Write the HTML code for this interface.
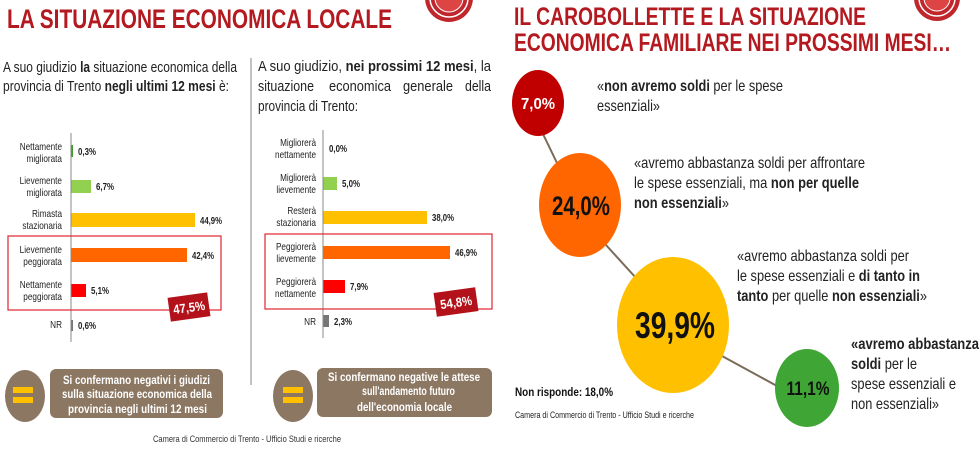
<!DOCTYPE html>
<html><head><meta charset="utf-8"><style>
html,body{margin:0;padding:0;background:#fff;width:980px;height:450px;overflow:hidden}
svg{display:block;font-family:"Liberation Sans",Arial,sans-serif}
</style></head><body>
<svg width="980" height="450" viewBox="0 0 980 450" xmlns="http://www.w3.org/2000/svg">
<!-- logos -->
<g><circle cx="449" cy="-2" r="24" fill="#c0272d"/><circle cx="449" cy="-2" r="19" fill="none" stroke="#fff" stroke-width="1.5"/><circle cx="449" cy="-2" r="14" fill="#d44" stroke="#fff" stroke-width="1"/></g>
<g><circle cx="937" cy="-2" r="23" fill="#c0272d"/><circle cx="937" cy="-2" r="18" fill="none" stroke="#fff" stroke-width="1.5"/><circle cx="937" cy="-2" r="13" fill="#d44" stroke="#fff" stroke-width="1"/></g>

<!-- left title -->
<text x="7" y="28" font-size="27" font-weight="bold" fill="#b3191f" textLength="385" lengthAdjust="spacingAndGlyphs">LA SITUAZIONE ECONOMICA LOCALE</text>
<line x1="251" y1="58" x2="251" y2="385" stroke="#999" stroke-width="1.2"/>

<text x="3" y="72" font-size="15" fill="#222" textLength="234" lengthAdjust="spacingAndGlyphs">A suo giudizio <tspan font-weight="bold">la</tspan> situazione economica della</text>
<text x="3" y="91" font-size="15" fill="#222" textLength="226" lengthAdjust="spacingAndGlyphs">provincia di Trento <tspan font-weight="bold">negli ultimi 12 mesi</tspan> è:</text>
<text x="258" y="71" font-size="15" fill="#222" textLength="233" lengthAdjust="spacingAndGlyphs">A suo giudizio, <tspan font-weight="bold">nei prossimi 12 mesi</tspan>, la</text>
<g font-size="15" fill="#222">
<text x="258" y="91" textLength="56" lengthAdjust="spacingAndGlyphs">situazione</text>
<text x="329" y="91" textLength="62" lengthAdjust="spacingAndGlyphs">economica</text>
<text x="403" y="91" textLength="50" lengthAdjust="spacingAndGlyphs">generale</text>
<text x="465" y="91" textLength="26" lengthAdjust="spacingAndGlyphs">della</text>
</g>
<text x="258" y="111" font-size="15" fill="#222" textLength="100" lengthAdjust="spacingAndGlyphs">provincia di Trento:</text>

<!-- left chart -->
<g font-size="10" fill="#222" text-anchor="end" transform="translate(62,0) scale(0.82,1) translate(-62,0)">
<text x="62" y="150">Nettamente</text><text x="62" y="162">migliorata</text>
<text x="62" y="184">Lievemente</text><text x="62" y="196">migliorata</text>
<text x="62" y="217">Rimasta</text><text x="62" y="229">stazionaria</text>
<text x="62" y="253">Lievemente</text><text x="62" y="265">peggiorata</text>
<text x="62" y="288">Nettamente</text><text x="62" y="300">peggiorata</text>
<text x="62" y="328">NR</text>
</g>
<rect x="71" y="145" width="2" height="12" fill="#3a9a2a"/>
<rect x="71" y="180" width="20" height="13" fill="#92d050"/>
<rect x="71" y="213" width="124" height="14" fill="#ffc000"/>
<rect x="71" y="248" width="116" height="14" fill="#ff6600"/>
<rect x="71" y="284" width="15" height="13" fill="#ff0000"/>
<rect x="71" y="320" width="2" height="11" fill="#777"/>
<line x1="71" y1="133" x2="71" y2="342" stroke="#888" stroke-width="1"/>
<g font-size="10" font-weight="bold" fill="#222" lengthAdjust="spacingAndGlyphs">
<text x="78" y="155" textLength="18" lengthAdjust="spacingAndGlyphs">0,3%</text><text x="96" y="190" textLength="18" lengthAdjust="spacingAndGlyphs">6,7%</text><text x="200" y="224" textLength="22" lengthAdjust="spacingAndGlyphs">44,9%</text>
<text x="192" y="259" textLength="22" lengthAdjust="spacingAndGlyphs">42,4%</text><text x="91" y="294" textLength="18" lengthAdjust="spacingAndGlyphs">5,1%</text><text x="78" y="329" textLength="18" lengthAdjust="spacingAndGlyphs">0,6%</text>
</g>
<rect x="8" y="236" width="213" height="74" fill="none" stroke="#e0262d" stroke-width="1.2"/>
<g transform="translate(189,307) rotate(-8)"><rect x="-20" y="-12" width="40" height="24" fill="#b3121a"/><text x="0" y="5" font-size="13" font-weight="bold" fill="#fff" text-anchor="middle" textLength="32" lengthAdjust="spacingAndGlyphs">47,5%</text></g>

<!-- right chart -->
<g font-size="10" fill="#222" text-anchor="end" transform="translate(316,0) scale(0.82,1) translate(-316,0)">
<text x="316" y="146">Migliorerà</text><text x="316" y="158">nettamente</text>
<text x="316" y="181">Migliorerà</text><text x="316" y="193">lievemente</text>
<text x="316" y="214">Resterà</text><text x="316" y="226">stazionaria</text>
<text x="316" y="250">Peggiorerà</text><text x="316" y="262">lievemente</text>
<text x="316" y="285">Peggiorerà</text><text x="316" y="297">nettamente</text>
<text x="316" y="325">NR</text>
</g>
<rect x="323" y="177" width="14" height="13" fill="#92d050"/>
<rect x="323" y="211" width="104" height="13" fill="#ffc000"/>
<rect x="323" y="246" width="127" height="13" fill="#ff6600"/>
<rect x="323" y="280" width="22" height="13" fill="#ff0000"/>
<rect x="323" y="315" width="6" height="12" fill="#777"/>
<line x1="323" y1="130" x2="323" y2="338" stroke="#888" stroke-width="1"/>
<g font-size="10" font-weight="bold" fill="#222">
<text x="329" y="152" textLength="18" lengthAdjust="spacingAndGlyphs">0,0%</text><text x="342" y="187" textLength="18" lengthAdjust="spacingAndGlyphs">5,0%</text><text x="432" y="221" textLength="22" lengthAdjust="spacingAndGlyphs">38,0%</text>
<text x="455" y="256" textLength="22" lengthAdjust="spacingAndGlyphs">46,9%</text><text x="350" y="290" textLength="18" lengthAdjust="spacingAndGlyphs">7,9%</text><text x="334" y="325" textLength="18" lengthAdjust="spacingAndGlyphs">2,3%</text>
</g>
<rect x="265" y="234" width="227" height="75" fill="none" stroke="#e0262d" stroke-width="1.2"/>
<g transform="translate(456,302) rotate(-8)"><rect x="-21" y="-12" width="42" height="24" fill="#b3121a"/><text x="0" y="5" font-size="13" font-weight="bold" fill="#fff" text-anchor="middle" textLength="32" lengthAdjust="spacingAndGlyphs">54,8%</text></g>

<!-- bottom notes -->
<ellipse cx="25" cy="396" rx="20" ry="26" fill="#8c7762"/>
<rect x="13" y="387" width="20" height="6" fill="#ffc000"/><rect x="13" y="397" width="20" height="6" fill="#ffc000"/>
<rect x="50" y="369" width="173" height="49" rx="6" fill="#8c7762"/>
<g font-size="12" font-weight="bold" fill="#fff">
<text x="63" y="384" textLength="147" lengthAdjust="spacingAndGlyphs">Si confermano negativi i giudizi</text>
<text x="62" y="398" textLength="150" lengthAdjust="spacingAndGlyphs">sulla situazione economica della</text>
<text x="68" y="413" textLength="139" lengthAdjust="spacingAndGlyphs">provincia negli ultimi 12 mesi</text>
</g>
<ellipse cx="293" cy="396" rx="20" ry="26" fill="#8c7762"/>
<rect x="283" y="387" width="20" height="6" fill="#ffc000"/><rect x="283" y="397" width="20" height="6" fill="#ffc000"/>
<rect x="317" y="368" width="175" height="49" rx="6" fill="#8c7762"/>
<g font-size="12" font-weight="bold" fill="#fff">
<text x="328" y="381" textLength="152" lengthAdjust="spacingAndGlyphs">Si confermano negative le attese</text>
<text x="362" y="395" textLength="93" lengthAdjust="spacingAndGlyphs">sull'andamento futuro</text>
<text x="357" y="411" textLength="95" lengthAdjust="spacingAndGlyphs">dell'economia locale</text>
</g>
<text x="247" y="442" font-size="9" fill="#333" text-anchor="middle" textLength="188" lengthAdjust="spacingAndGlyphs">Camera di Commercio di Trento - Ufficio Studi e ricerche</text>

<!-- right panel -->
<text x="514" y="25" font-size="25" font-weight="bold" fill="#b3191f" textLength="352" lengthAdjust="spacingAndGlyphs">IL CAROBOLLETTE E LA SITUAZIONE</text>
<text x="514" y="51" font-size="25" font-weight="bold" fill="#b3191f" textLength="437" lengthAdjust="spacingAndGlyphs">ECONOMICA FAMILIARE NEI PROSSIMI MESI…</text>

<g stroke="#7a6a5a" stroke-width="2">
<line x1="543" y1="134" x2="557" y2="163"/>
<line x1="606" y1="245" x2="636" y2="278"/>
<line x1="722" y1="356" x2="777" y2="386"/>
</g>
<ellipse cx="538" cy="103" rx="26" ry="33" fill="#c00000"/>
<text x="538" y="109" font-size="16" font-weight="bold" fill="#fff" text-anchor="middle" textLength="34" lengthAdjust="spacingAndGlyphs">7,0%</text>
<ellipse cx="580" cy="205" rx="41" ry="52" fill="#ff6600"/>
<text x="581" y="215" font-size="27" font-weight="bold" fill="#111" text-anchor="middle" textLength="58" lengthAdjust="spacingAndGlyphs">24,0%</text>
<ellipse cx="673" cy="325" rx="56" ry="68" fill="#ffc000"/>
<text x="675" y="338" font-size="37" font-weight="bold" fill="#111" text-anchor="middle" textLength="80" lengthAdjust="spacingAndGlyphs">39,9%</text>
<ellipse cx="807" cy="388" rx="32" ry="39" fill="#3fa535"/>
<text x="808" y="395" font-size="19" font-weight="bold" fill="#111" text-anchor="middle" textLength="43" lengthAdjust="spacingAndGlyphs">11,1%</text>

<g font-size="16" fill="#222">
<text x="597" y="91" textLength="186" lengthAdjust="spacingAndGlyphs">«<tspan font-weight="bold">non avremo soldi</tspan> per le spese</text>
<text x="597" y="111" textLength="63" lengthAdjust="spacingAndGlyphs">essenziali»</text>
<text x="634" y="168" textLength="231" lengthAdjust="spacingAndGlyphs">«avremo abbastanza soldi per affrontare</text>
<text x="634" y="188" textLength="225" lengthAdjust="spacingAndGlyphs">le spese essenziali, ma <tspan font-weight="bold">non per quelle</tspan></text>
<text x="634" y="208" textLength="95" lengthAdjust="spacingAndGlyphs"><tspan font-weight="bold">non essenziali</tspan>»</text>
<text x="737" y="261" textLength="172" lengthAdjust="spacingAndGlyphs">«avremo abbastanza soldi per</text>
<text x="737" y="281" textLength="183" lengthAdjust="spacingAndGlyphs">le spese essenziali e <tspan font-weight="bold">di tanto in</tspan></text>
<text x="737" y="301" textLength="190" lengthAdjust="spacingAndGlyphs"><tspan font-weight="bold">tanto</tspan> per quelle <tspan font-weight="bold">non essenziali</tspan>»</text>
<text x="851" y="349" textLength="128" lengthAdjust="spacingAndGlyphs" font-weight="bold">«avremo abbastanza</text>
<text x="851" y="369" textLength="66" lengthAdjust="spacingAndGlyphs"><tspan font-weight="bold">soldi</tspan> per le</text>
<text x="851" y="389" textLength="105" lengthAdjust="spacingAndGlyphs">spese essenziali e</text>
<text x="851" y="409" textLength="88" lengthAdjust="spacingAndGlyphs">non essenziali»</text>
</g>
<text x="515" y="396" font-size="12" font-weight="bold" fill="#111" textLength="98" lengthAdjust="spacingAndGlyphs">Non risponde: 18,0%</text>
<text x="515" y="418" font-size="9" fill="#222" textLength="179" lengthAdjust="spacingAndGlyphs">Camera di Commercio di Trento - Ufficio Studi e ricerche</text>
</svg>
</body></html>
